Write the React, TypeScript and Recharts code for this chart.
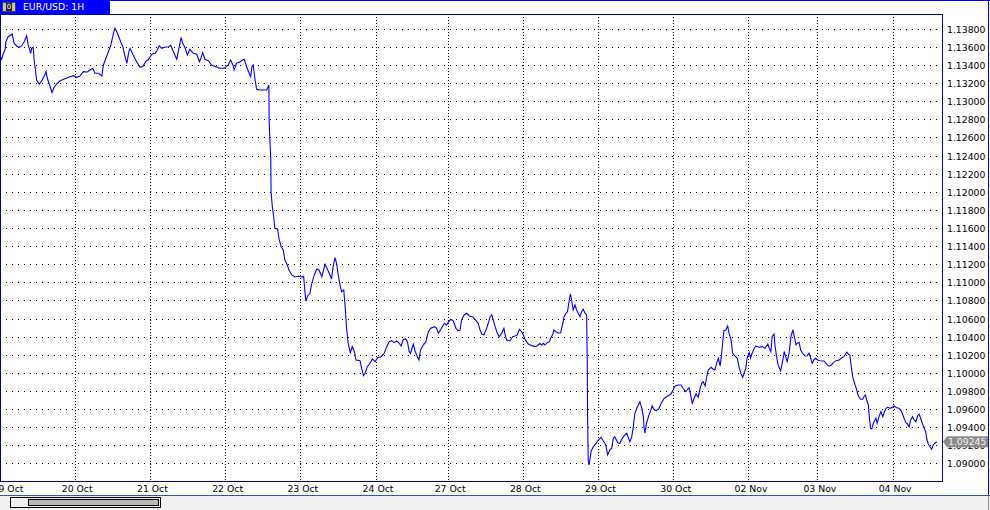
import React from 'react';
import { LineChart, Line, XAxis, YAxis, CartesianGrid } from 'recharts';

// Hourly EUR/USD closes, [bar index, price], one array per trading day
const oct19: [number, number][] = [[0.2,1.13491],[0.5,1.13469],[1.1,1.13535],[1.6,1.13571],[1.9,1.13663],[2.6,1.13718],[3.5,1.13737],[3.9,1.13748],[4.5,1.13645],[5.3,1.13616],[6.1,1.13601],[6.9,1.13616],[7.7,1.13663],[8.5,1.13729],[9.0,1.13627],[9.8,1.13535],[10.1,1.13590],[10.6,1.13601],[10.9,1.13461],[11.3,1.13351],[11.7,1.13240],[12.5,1.13193],[13.3,1.13232],[14.0,1.13277],[14.7,1.13332],[15.1,1.13259],[16.0,1.13166],[16.6,1.13100],[17.2,1.13155],[18.1,1.13196],[19.1,1.13229],[20.7,1.13254],[22.3,1.13277],[23.4,1.13288]];
const oct20: [number, number][] = [[24.5,1.13270],[25.5,1.13284],[26.6,1.13332],[27.9,1.13328],[28.7,1.13351],[29.6,1.13369],[30.3,1.13314],[31.4,1.13314],[32.5,1.13284],[33.0,1.13406],[33.8,1.13480],[34.6,1.13553],[35.4,1.13627],[36.2,1.13756],[36.7,1.13811],[37.4,1.13762],[38.3,1.13682],[39.2,1.13608],[39.9,1.13497],[40.5,1.13425],[41.1,1.13553],[41.5,1.13590],[42.5,1.13516],[43.6,1.13442],[44.7,1.13380],[45.7,1.13395],[46.6,1.13450],[47.3,1.13461]];
const oct21: [number, number][] = [[48.4,1.13524],[49.5,1.13535],[50.2,1.13571],[50.8,1.13619],[51.6,1.13590],[52.6,1.13601],[53.7,1.13608],[54.5,1.13623],[55.1,1.13571],[55.8,1.13516],[56.4,1.13469],[57.1,1.13590],[57.8,1.13712],[58.3,1.13645],[59.0,1.13601],[59.8,1.13516],[60.6,1.13579],[61.7,1.13535],[62.8,1.13524],[63.6,1.13442],[64.1,1.13480],[64.7,1.13542],[65.4,1.13469],[66.5,1.13453],[67.5,1.13406],[68.9,1.13387],[70.2,1.13369],[71.5,1.13369]];
const oct22: [number, number][] = [[72.8,1.13406],[73.6,1.13461],[74.3,1.13406],[74.7,1.13351],[75.5,1.13425],[76.6,1.13442],[77.9,1.13472],[78.7,1.13387],[79.5,1.13314],[80.0,1.13277],[80.4,1.13387],[80.8,1.13406],[81.4,1.13240],[81.9,1.13137],[83.0,1.13130],[84.0,1.13130],[85.1,1.13130],[85.8,1.13185],[85.9,1.12762],[86.4,1.12375],[86.5,1.12006],[86.9,1.11841],[87.4,1.11713],[87.7,1.11602],[88.6,1.11595],[89.0,1.11492],[89.7,1.11399],[90.4,1.11363],[90.9,1.11252],[91.7,1.11197],[92.2,1.11142],[93.1,1.11087],[94.1,1.11064],[95.2,1.11072]];
const oct23: [number, number][] = [[96.3,1.11064],[96.9,1.11072],[97.3,1.10902],[97.6,1.10799],[98.2,1.10858],[98.9,1.10884],[99.5,1.10995],[100.3,1.11087],[101.1,1.11153],[101.8,1.11142],[102.7,1.11068],[103.7,1.11205],[104.6,1.11142],[105.3,1.11087],[105.8,1.11042],[106.3,1.11178],[106.9,1.11278],[107.4,1.11216],[107.9,1.11094],[108.5,1.10976],[109.0,1.10902],[109.7,1.10921],[110.1,1.10755],[110.6,1.10498],[111.1,1.10332],[111.8,1.10228],[112.4,1.10295],[113.1,1.10239],[113.6,1.10148],[114.9,1.10140],[115.4,1.10056],[116.0,1.09974],[116.5,1.10001],[117.2,1.10074],[118.1,1.10111],[118.8,1.10159],[119.7,1.10129]];
const oct24: [number, number][] = [[120.5,1.10173],[121.6,1.10184],[122.6,1.10222],[123.4,1.10295],[124.2,1.10350],[125.0,1.10361],[125.7,1.10339],[126.6,1.10358],[127.4,1.10332],[128.0,1.10302],[128.7,1.10376],[129.5,1.10380],[130.0,1.10350],[130.6,1.10239],[131.0,1.10222],[131.9,1.10324],[132.4,1.10250],[133.2,1.10184],[133.7,1.10148],[134.2,1.10258],[135.1,1.10313],[135.9,1.10350],[136.7,1.10460],[137.4,1.10498],[138.8,1.10516],[139.3,1.10498],[139.9,1.10443],[140.9,1.10498],[141.8,1.10553],[142.5,1.10534]];
const oct27: [number, number][] = [[143.2,1.10571],[143.8,1.10597],[144.6,1.10582],[145.5,1.10498],[146.2,1.10471],[146.8,1.10479],[147.3,1.10589],[148.1,1.10645],[148.9,1.10664],[149.8,1.10634],[150.8,1.10626],[151.9,1.10582],[152.6,1.10553],[153.2,1.10479],[153.7,1.10435],[154.4,1.10424],[155.1,1.10479],[155.8,1.10553],[156.4,1.10626],[156.9,1.10645],[157.4,1.10589],[158.0,1.10516],[158.7,1.10443],[159.3,1.10405],[160.1,1.10443],[160.8,1.10498],[161.2,1.10424],[161.7,1.10369],[162.7,1.10358],[163.6,1.10405],[164.4,1.10413],[165.1,1.10424],[165.7,1.10487],[166.5,1.10460]];
const oct28: [number, number][] = [[167.0,1.10424],[167.6,1.10369],[168.6,1.10324],[169.7,1.10306],[170.7,1.10295],[171.4,1.10302],[172.3,1.10332],[172.8,1.10313],[173.4,1.10332],[173.9,1.10313],[174.6,1.10339],[175.3,1.10350],[175.7,1.10387],[176.3,1.10424],[176.8,1.10479],[177.4,1.10460],[178.1,1.10443],[178.9,1.10449],[179.6,1.10553],[180.0,1.10626],[180.6,1.10664],[181.1,1.10681],[181.5,1.10774],[182.0,1.10877],[182.4,1.10810],[182.9,1.10700],[183.5,1.10755],[184.0,1.10700],[184.5,1.10664],[185.1,1.10626],[185.6,1.10681],[186.1,1.10708],[186.7,1.10664],[187.2,1.10645],[187.4,1.10111],[187.5,1.09559],[187.7,1.09043],[188.0,1.08988],[188.6,1.09135],[189.3,1.09190],[190.1,1.09220],[190.9,1.09264]];
const oct29: [number, number][] = [[191.8,1.09294],[192.5,1.09256],[193.3,1.09209],[193.9,1.09099],[194.6,1.09154],[195.2,1.09173],[195.7,1.09283],[196.2,1.09301],[197.1,1.09234],[197.8,1.09228],[198.4,1.09272],[199.2,1.09312],[200.0,1.09338],[200.5,1.09290],[201.0,1.09245],[201.6,1.09301],[202.1,1.09411],[202.6,1.09559],[203.2,1.09614],[203.7,1.09651],[204.2,1.09687],[204.8,1.09614],[205.3,1.09522],[205.5,1.09411],[205.8,1.09338],[206.3,1.09449],[207.1,1.09540],[207.7,1.09596],[208.1,1.09640],[208.8,1.09596],[209.5,1.09589],[210.3,1.09614],[211.1,1.09676],[212.0,1.09725],[213.1,1.09750],[214.1,1.09772],[214.8,1.09816]];
const oct30: [number, number][] = [[215.4,1.09861],[216.4,1.09872],[217.3,1.09872],[218.0,1.09835],[218.8,1.09798],[219.3,1.09816],[219.9,1.09842],[220.5,1.09742],[220.9,1.09670],[221.5,1.09725],[222.1,1.09772],[222.8,1.09736],[223.4,1.09835],[223.9,1.09890],[224.4,1.09908],[225.0,1.09861],[225.5,1.09957],[226.0,1.10037],[226.9,1.10067],[227.6,1.10045],[228.1,1.10037],[228.7,1.10111],[229.2,1.10167],[229.8,1.10082],[230.3,1.10222],[230.6,1.10332],[231.0,1.10471],[231.6,1.10479],[232.2,1.10523],[232.6,1.10449],[233.3,1.10369],[233.8,1.10222],[234.5,1.10192],[235.3,1.10167],[235.8,1.10074],[236.4,1.10001],[237.0,1.09957],[237.5,1.10008],[238.0,1.10056],[238.4,1.10167]];
const nov02: [number, number][] = [[239.1,1.10228],[239.5,1.10167],[240.0,1.10222],[240.7,1.10277],[241.2,1.10302],[242.2,1.10288],[243.2,1.10295],[244.1,1.10277],[245.0,1.10324],[245.5,1.10277],[246.0,1.10239],[246.4,1.10405],[247.0,1.10435],[247.3,1.10313],[247.8,1.10184],[248.3,1.10093],[249.1,1.10026],[249.6,1.10111],[250.3,1.10239],[250.7,1.10184],[251.2,1.10129],[251.8,1.10222],[252.4,1.10405],[253.0,1.10479],[253.7,1.10369],[254.0,1.10313],[254.4,1.10332],[255.0,1.10343],[255.5,1.10258],[256.1,1.10222],[256.9,1.10192],[257.6,1.10195],[258.2,1.10222],[258.7,1.10167],[259.2,1.10111],[259.7,1.10148],[260.3,1.10167],[260.9,1.10148]];
const nov03: [number, number][] = [[261.6,1.10140],[262.9,1.10137],[263.6,1.10111],[264.3,1.10081],[265.1,1.10085],[265.9,1.10118],[266.8,1.10140],[267.8,1.10148],[268.6,1.10173],[269.3,1.10184],[270.2,1.10233],[270.7,1.10214],[271.2,1.10203],[271.5,1.10111],[272.1,1.09963],[272.7,1.09890],[273.4,1.09816],[273.9,1.09750],[274.6,1.09714],[275.3,1.09714],[275.8,1.09750],[276.2,1.09761],[276.5,1.09714],[277.1,1.09651],[277.4,1.09522],[277.8,1.09393],[278.2,1.09386],[278.7,1.09449],[279.2,1.09485],[279.5,1.09504],[279.9,1.09449],[280.5,1.09522],[281.1,1.09577],[281.7,1.09522],[282.1,1.09559],[282.7,1.09614],[283.3,1.09625],[284.0,1.09614],[284.7,1.09625]];
const nov04: [number, number][] = [[285.4,1.09640],[286.1,1.09621],[286.9,1.09614],[287.4,1.09596],[287.9,1.09559],[288.5,1.09504],[289.1,1.09455],[289.6,1.09441],[290.1,1.09411],[290.6,1.09485],[291.2,1.09522],[291.7,1.09485],[292.3,1.09466],[292.8,1.09529],[293.3,1.09551],[293.8,1.09504],[294.4,1.09438],[294.9,1.09393],[295.4,1.09356],[295.7,1.09283],[296.2,1.09220],[296.8,1.09190],[297.3,1.09162],[297.8,1.09209],[298.3,1.09228],[298.9,1.09245]];

const dayTickBars = [0, 24, 48, 72, 96, 120, 143, 167, 191, 215, 239, 261, 285];
const dayTickLabels = ['19 Oct', '20 Oct', '21 Oct', '22 Oct', '23 Oct', '24 Oct', '27 Oct', '28 Oct', '29 Oct', '30 Oct', '02 Nov', '03 Nov', '04 Nov'];
const priceTicks = [1.090, 1.092, 1.094, 1.096, 1.098, 1.100, 1.102, 1.104, 1.106, 1.108, 1.110, 1.112, 1.114, 1.116, 1.118, 1.120, 1.122, 1.124, 1.126, 1.128, 1.130, 1.132, 1.134, 1.136, 1.138];
const symbolTitle = 'EUR/USD: 1H';
const lastPrice = 1.09245;
const barDomain: [number, number] = [0, 300.6];
const priceDomain: [number, number] = [1.08811, 1.13969];

const days = [oct19, oct20, oct21, oct22, oct23, oct24, oct27, oct28, oct29, oct30, nov02, nov03, nov04];
const data = days.flat().map(([bar, price]) => ({ bar, price }));

const FONT = '"DejaVu Sans", Verdana, sans-serif';
const FS = 9.3;
const PRICE_AXIS_W = 47;

const XTick = (props: any) => {
  const { x, y, payload, index } = props;
  const i = dayTickBars.indexOf(payload.value);
  const dx = index === 0 ? 8 : 2;
  return (
    <text x={x + dx} y={y + 11} textAnchor="middle" fontFamily={FONT} fontSize={FS} fill="#000">
      {dayTickLabels[i]}
    </text>
  );
};

const YTick = (props: any) => {
  const { x, y, payload } = props;
  return (
    <text x={x + 5} y={y + 3.5} textAnchor="start" fontFamily={FONT} fontSize={FS} fill="#000">
      {Number(payload.value).toFixed(5)}
    </text>
  );
};

// current-price tag, drawn by a second (1px wide) price axis placed after the main one
const TagTick = (props: any) => {
  const { x, y, payload } = props;
  const right = x - PRICE_AXIS_W; // plot's right edge
  const cy = y;
  return (
    <g>
      <path d={`M${right + 1},${cy} L${right + 5},${cy - 5.5} H${right + 46} V${cy + 5.5} H${right + 5} Z`} fill="#8c8c8c" />
      <text x={right + 6} y={cy + 3.5} textAnchor="start" fontFamily={FONT} fontSize={FS} fill="#f2f2f2">
        {Number(payload.value).toFixed(5)}
      </text>
    </g>
  );
};

export default function App() {
  return (
    <div style={{ position: 'absolute', left: 0, top: 0, width: 990, height: 510, background: '#fff', overflow: 'hidden' }}>
      <LineChart width={990} height={510} data={data} margin={{ top: 14, right: 0, bottom: 0, left: 0 }}>
        <CartesianGrid vertical={false} stroke="#000" strokeDasharray="1 5" shapeRendering="crispEdges" />
        <CartesianGrid horizontal={false} stroke="#000" strokeDasharray="1 2" shapeRendering="crispEdges" />
        <XAxis
          dataKey="bar"
          type="number"
          domain={barDomain}
          ticks={dayTickBars}
          interval={0}
          allowDataOverflow
          height={29}
          axisLine={false}
          tickLine={false}
          tickSize={0}
          tickMargin={0}
          tick={<XTick />}
        />
        <YAxis
          orientation="right"
          type="number"
          domain={priceDomain}
          ticks={priceTicks}
          interval={0}
          allowDataOverflow
          width={PRICE_AXIS_W}
          axisLine={false}
          tickLine={false}
          tickSize={0}
          tickMargin={0}
          tick={<YTick />}
        />
        <YAxis
          yAxisId="tag"
          orientation="right"
          type="number"
          domain={priceDomain}
          ticks={[lastPrice]}
          interval={0}
          allowDataOverflow
          width={1}
          axisLine={false}
          tickLine={false}
          tickSize={0}
          tickMargin={0}
          tick={<TagTick />}
        />
        <Line type="linear" dataKey="price" stroke="#0000ff" strokeWidth={1.1} dot={false} isAnimationActive={false} />
      </LineChart>

      {/* plot frame */}
      <div style={{ position: 'absolute', left: 0, top: 14, width: 943, height: 468, boxSizing: 'border-box', border: '1px solid #0000a8', pointerEvents: 'none' }} />
      {/* window borders */}
      <div style={{ position: 'absolute', left: 0, top: 0, width: 990, height: 1, background: '#0000ff' }} />
      <div style={{ position: 'absolute', left: 988, top: 0, width: 1, height: 495, background: '#0000ff' }} />
      {/* header tab */}
      <div style={{ position: 'absolute', left: 0, top: 0, width: 110, height: 14, background: '#0000ff' }}>
        <div style={{ position: 'absolute', left: 2, top: 2, width: 14, height: 10, boxSizing: 'border-box', background: '#c0c0c0', border: '1px solid #404040' }}>
          <div style={{ position: 'absolute', left: 3, top: 0, width: 6, height: 8, background: '#202020', color: '#fff', fontFamily: FONT, fontSize: 7, lineHeight: '8px', textAlign: 'center' }}>0</div>
        </div>
        <div style={{ position: 'absolute', left: 23, top: 0, height: 14, lineHeight: '14px', color: '#fff', fontFamily: FONT, fontSize: FS, whiteSpace: 'nowrap' }}>{symbolTitle}</div>
      </div>
      {/* bottom scrollbar area */}
      <div style={{ position: 'absolute', left: 0, top: 495, width: 990, height: 1, background: '#2a5db0' }} />
      <div style={{ position: 'absolute', left: 0, top: 496, width: 990, height: 14, background: '#f0f0f0' }} />
      <div style={{ position: 'absolute', left: 988, top: 496, width: 1, height: 14, background: '#909090' }} />
      <div style={{ position: 'absolute', left: 10, top: 497, width: 151, height: 11, boxSizing: 'border-box', border: '1px solid #000', background: '#f0f0f0' }} />
      <div style={{ position: 'absolute', left: 28, top: 499, width: 131, height: 7, boxSizing: 'border-box', border: '1px solid #000', background: '#b8b8b8' }} />
    </div>
  );
}
